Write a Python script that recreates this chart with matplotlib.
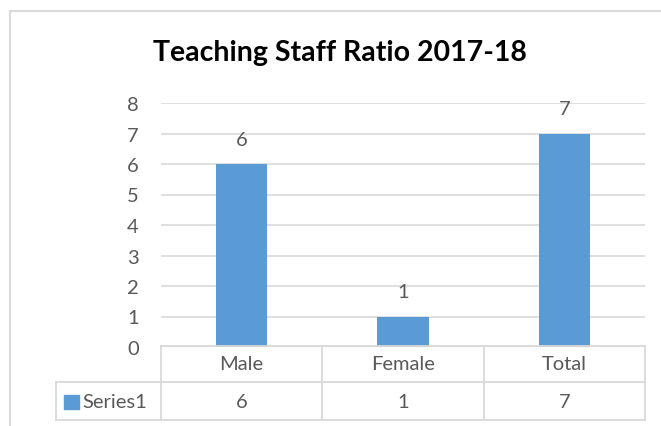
import matplotlib
matplotlib.use("Agg")
import matplotlib.pyplot as plt
from matplotlib.lines import Line2D
from matplotlib.patches import Rectangle
import matplotlib.transforms as mtransforms

categories = ["Male", "Female", "Total"]
values = [6, 1, 7]
series_name = "Series1"
title = "Teaching Staff Ratio 2017-18"
yticks = [0, 1, 2, 3, 4, 5, 6, 7, 8]

W, H = 661, 427
bar_color = "#5b9bd5"
grid_color = "#d9d9d9"
text_color = "#595959"
font = "Lato"
fs = 14.5

fig = plt.figure(figsize=(W / 100, H / 100), dpi=100)

def fx(x):
    return x / W

def fy(y):
    return 1 - y / H

# chart border (runs off the right and bottom edges)
fig.add_artist(Rectangle((fx(10), fy(H + 20)), fx(W + 20), fy(12) - fy(H + 20),
                         transform=fig.transFigure, fill=False,
                         edgecolor=grid_color, linewidth=1.5))

ax = fig.add_axes([fx(161), fy(348), fx(645) - fx(161), fy(104) - fy(348)])
ax.bar(range(len(categories)), values, width=0.32, color=bar_color, zorder=3)
ax.set_xlim(-0.5, len(categories) - 0.5)
ax.set_ylim(0, 8)
ax.set_yticks(yticks)
ax.set_xticks([])
ax.grid(axis="y", color=grid_color, linewidth=1.2, zorder=0)
for s in ax.spines.values():
    s.set_visible(False)
ax.tick_params(axis="y", length=0, pad=16, labelsize=fs, labelcolor=text_color)
for lab in ax.get_yticklabels():
    lab.set_fontfamily(font)

for i, v in enumerate(values):
    ax.annotate(str(v), (i, v), xytext=(0, 25), textcoords="offset pixels",
                ha="center", va="center", fontsize=fs, color=text_color,
                fontfamily=font)

fig.text(fx(340), fy(53), title, ha="center", va="center", fontsize=20.5,
         fontweight="bold", color="black", fontfamily=font)

# data table
blend = mtransforms.blended_transform_factory(ax.transData, fig.transFigure)
n = len(categories)
line_kw = dict(color=grid_color, linewidth=1.3)
fig.add_artist(Line2D([-0.5, n - 0.5], [fy(347), fy(347)], transform=blend, **line_kw))
for yy in (383, 421):
    fig.add_artist(Line2D([fx(56), fx(645)], [fy(yy), fy(yy)],
                          transform=fig.transFigure, **line_kw))
for k in range(n + 1):
    fig.add_artist(Line2D([k - 0.5, k - 0.5], [fy(347), fy(421)], transform=blend, **line_kw))
fig.add_artist(Line2D([fx(56), fx(56)], [fy(383), fy(421)],
                      transform=fig.transFigure, **line_kw))

for i, (c, v) in enumerate(zip(categories, values)):
    fig.text(i, fy(365), c, transform=blend, ha="center", va="center",
             fontsize=fs, color=text_color, fontfamily=font)
    fig.text(i, fy(403), str(v), transform=blend, ha="center", va="center",
             fontsize=fs, color=text_color, fontfamily=font)

fig.add_artist(Rectangle((fx(64), fy(410)), fx(79) - fx(64), fy(396) - fy(410),
                         transform=fig.transFigure, color=bar_color))
fig.text(fx(82), fy(403), series_name, ha="left", va="center",
         fontsize=fs, color=text_color, fontfamily=font)

fig.savefig("out.png", dpi=100)
